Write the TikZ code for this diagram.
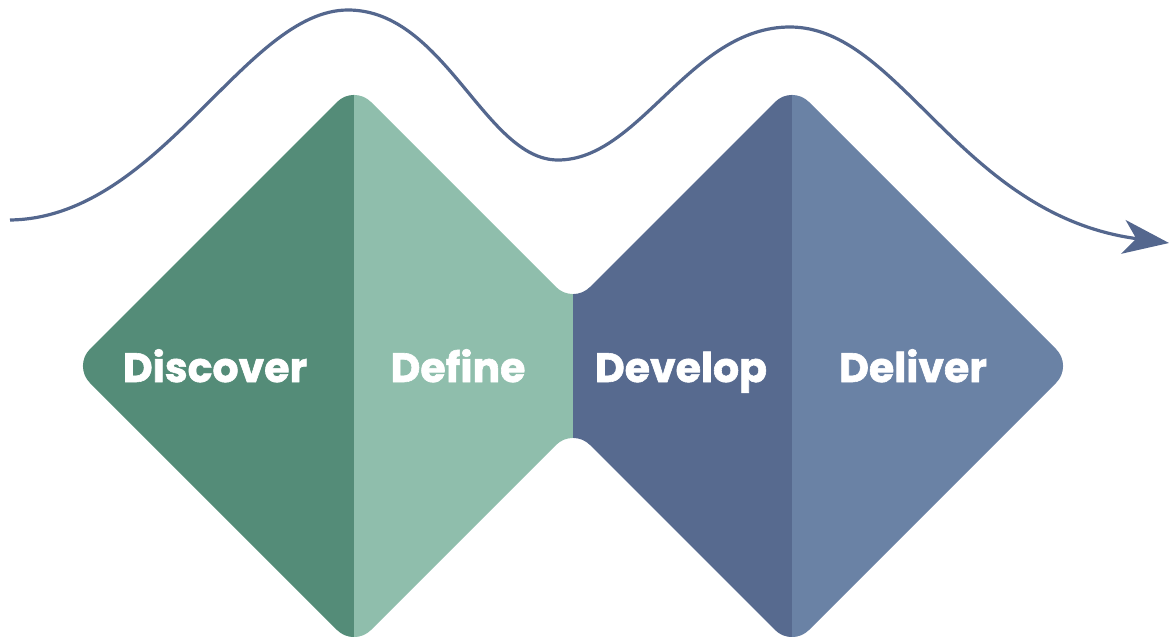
\documentclass[tikz,border=0pt]{standalone}
\usepackage{fontspec}
\setmainfont{Poppins}[BoldFeatures={FakeBold=1.5}]
\usetikzlibrary{arrows.meta}

\definecolor{discover}{RGB}{84,140,120}
\definecolor{define}{RGB}{143,190,172}
\definecolor{develop}{RGB}{87,106,143}
\definecolor{deliver}{RGB}{106,130,165}
\definecolor{waveline}{RGB}{84,103,142}

\tikzset{
	phase/.style={text=white, anchor=base, inner sep=0pt, font=\bfseries\fontsize{41}{48}\selectfont},
	wave/.style={waveline, line width=3.2pt, -{Stealth[length=46pt,width=34pt,inset=13pt]}}
}

\begin{document}
\begin{tikzpicture}[x=1pt,y=-1pt]
	\useasboundingbox (0,0) rectangle (1171,637);
	% double diamond
	\begin{scope}
		\clip[rounded corners=24] (354,85) -- (573,304) -- (792,85) -- (1073,366)
			-- (792,647) -- (573,428) -- (354,647) -- (73,366) -- cycle;
		\fill[discover] (0,0) rectangle (354,660);
		\fill[define] (354,0) rectangle (573,660);
		\fill[develop] (573,0) rectangle (792,660);
		\fill[deliver] (792,0) rectangle (1171,660);
	\end{scope}

	\node[phase] (discover) at (215,382) {Discover};
	\node[phase] (define) at (458,382) {Define};
	\node[phase] (develop) at (681,382) {Develop};
	\node[phase] (deliver) at (913,382) {Deliver};

	% wave
	\coordinate (w0) at (10,220);
	\coordinate (w1) at (348,10);
	\coordinate (w2) at (558,160);
	\coordinate (w3) at (790,27);
	\coordinate (w4) at (1169,243);
	\draw[wave] (w0) .. controls (160,218) and (245,10) .. (w1)
		.. controls (445,10) and (485,160) .. (w2)
		.. controls (640,160) and (690,27) .. (w3)
		.. controls (900,27) and (960,215) .. (w4);
\end{tikzpicture}
\end{document}
